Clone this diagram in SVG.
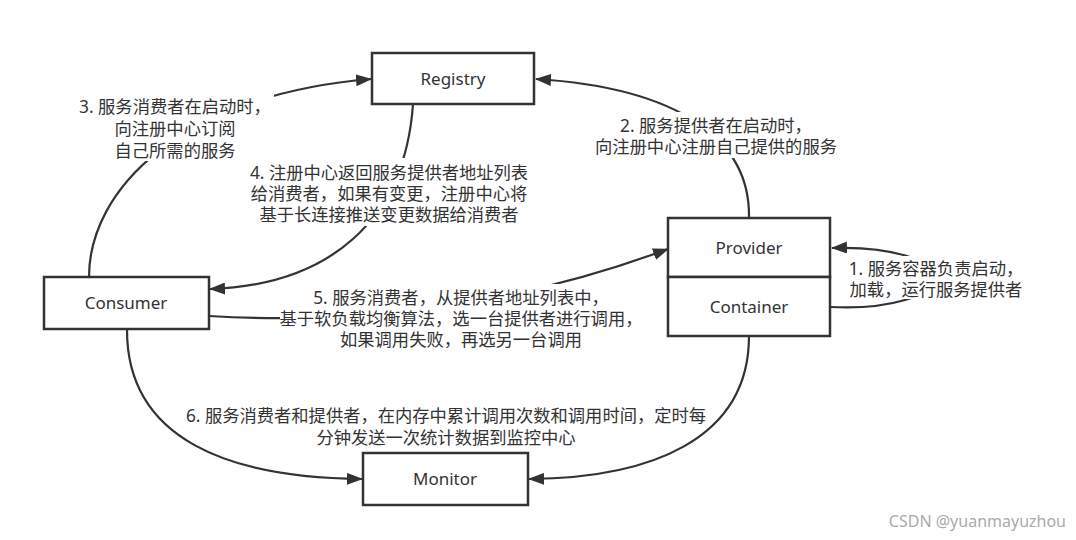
<svg xmlns="http://www.w3.org/2000/svg" width="1076" height="540" viewBox="0 0 1076 540">
<style>
.box{fill:#fff;stroke:#333;stroke-width:2.5}
.nt{font-family:"Noto Sans","Noto Sans CJK SC",sans-serif;font-size:17px;fill:#333;text-anchor:middle}
.lb{font-family:"Noto Sans","Noto Sans CJK SC",sans-serif;font-size:17.3px;fill:#333;text-anchor:middle}
.bg{fill:#fff}
.cn{fill:none;stroke:#333;stroke-width:2.2;marker-end:url(#ah)}
.wm{font-family:"Noto Sans",sans-serif;font-size:16px;fill:#aaa;text-anchor:end}
</style>
<defs>
<marker id="ah" markerWidth="16" markerHeight="12" refX="15" refY="6" orient="auto" markerUnits="userSpaceOnUse">
<path d="M0,0 L16,6 L0,12 Z" fill="#333"/>
</marker>
</defs>
<rect width="1076" height="540" fill="#fff"/>
<g id="connectors">
<path class="cn" d="M89 277 C89 190 180 95 371 79"/>
<path class="cn" d="M749 217 C750 140 680 88 536 79"/>
<path class="cn" d="M413 104 C405 220 330 285 210 289"/>
<path class="cn" d="M209 316 Q450 330 668 249"/>
<path class="cn" d="M830 307 C890 310 935 295 935 278 C935 260 890 246 832 248"/>
<path class="cn" d="M127 330 C127 440 230 478 362 479"/>
<path class="cn" d="M749 336 C749 440 650 478 529 479"/>
</g>
<g id="labels">
<rect class="bg" x="76" y="93" width="198" height="68"/>
<text class="lb"><tspan x="175" y="113">3. 服务消费者在启动时，</tspan><tspan x="175" y="135">向注册中心订阅</tspan><tspan x="175" y="157">自己所需的服务</tspan></text>
<rect class="bg" x="590" y="112" width="252" height="46"/>
<text class="lb"><tspan x="716" y="132">2. 服务提供者在启动时，</tspan><tspan x="716" y="153">向注册中心注册自己提供的服务</tspan></text>
<rect class="bg" x="245" y="158" width="288" height="68"/>
<text class="lb"><tspan x="389" y="179">4. 注册中心返回服务提供者地址列表</tspan><tspan x="389" y="200">给消费者，如果有变更，注册中心将</tspan><tspan x="389" y="221">基于长连接推送变更数据给消费者</tspan></text>
<rect class="bg" x="280" y="284" width="364" height="66"/>
<text class="lb"><tspan x="461" y="304">5. 服务消费者，从提供者地址列表中，</tspan><tspan x="461" y="325">基于软负载均衡算法，选一台提供者进行调用，</tspan><tspan x="461" y="346">如果调用失败，再选另一台调用</tspan></text>
<rect class="bg" x="845" y="256" width="184" height="43"/>
<text class="lb"><tspan x="936" y="275">1. 服务容器负责启动，</tspan><tspan x="936" y="296">加载，运行服务提供者</tspan></text>
<text class="lb"><tspan x="446" y="422">6. 服务消费者和提供者，在内存中累计调用次数和调用时间，定时每</tspan><tspan x="446" y="444">分钟发送一次统计数据到监控中心</tspan></text>
</g>
<g id="registry">
<rect class="box" x="372" y="53" width="162" height="51"/>
<text class="nt" x="453" y="85">Registry</text>
</g>
<g id="provider">
<rect class="box" x="668" y="218" width="162" height="59"/>
<text class="nt" x="749" y="254">Provider</text>
</g>
<g id="container">
<rect class="box" x="668" y="277" width="162" height="59"/>
<text class="nt" x="749" y="313">Container</text>
</g>
<g id="consumer">
<rect class="box" x="44" y="277" width="165" height="52"/>
<text class="nt" x="126" y="309">Consumer</text>
</g>
<g id="monitor">
<rect class="box" x="363" y="453" width="165" height="52"/>
<text class="nt" x="445" y="485">Monitor</text>
</g>
<text class="wm" x="1066" y="527">CSDN @yuanmayuzhou</text>
</svg>
